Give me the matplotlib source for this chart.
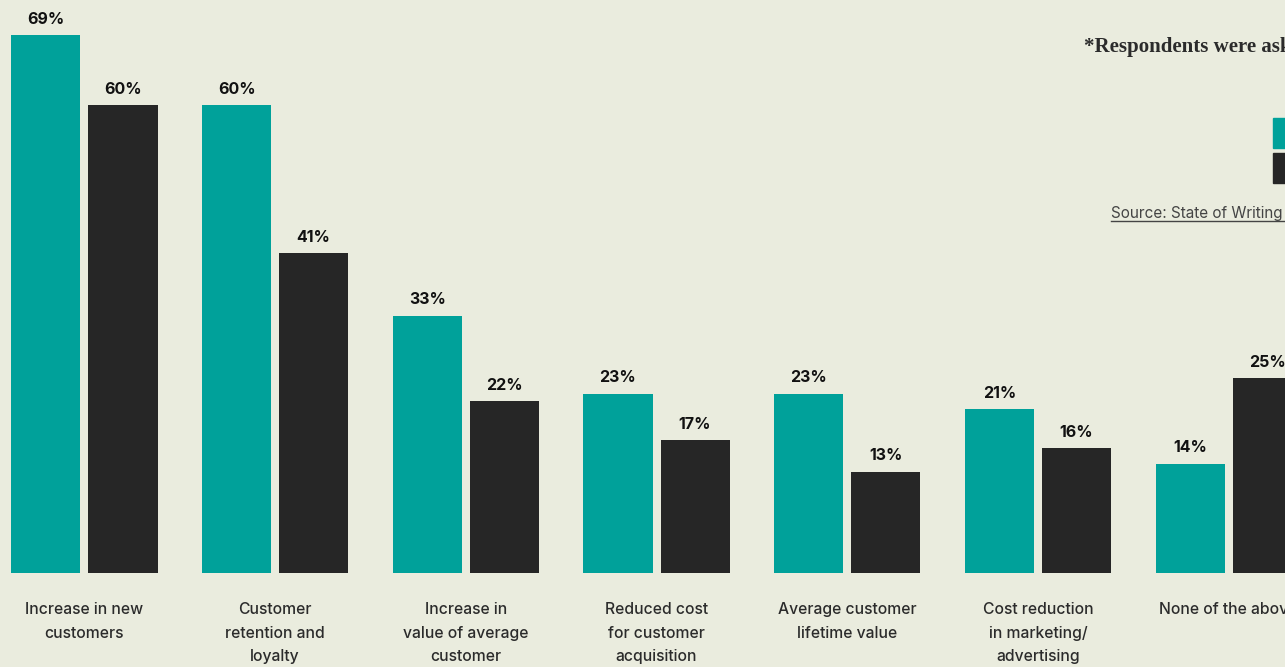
import matplotlib.pyplot as plt
import matplotlib.patches as mpatches
import matplotlib.lines as mlines
import numpy as np

categories = ["Increase in new\ncustomers",
              "Customer\nretention and\nloyalty",
              "Increase in\nvalue of average\ncustomer",
              "Reduced cost\nfor customer\nacquisition",
              "Average customer\nlifetime value",
              "Cost reduction\nin marketing/\nadvertising",
              "None of the above"]
series_a = [69, 60, 33, 23, 23, 21, 14]
series_b = [60, 41, 22, 17, 13, 16, 25]
names = ["2024", "2023"]

teal = "#00a19a"
dark = "#262626"
bg = "#eaecde"

plt.rcParams['font.family'] = ['Inter', 'DejaVu Sans']

fig = plt.figure(figsize=(12.85, 6.67), dpi=100, facecolor=bg)
ax = fig.add_axes([0, 0, 1, 1])
ax.set_facecolor(bg)

x = np.arange(len(categories))
w = 0.362
off = 0.202
b1 = ax.bar(x - off, series_a, w, color=teal, label=names[0])
b2 = ax.bar(x + off, series_b, w, color=dark, label=names[1])
for bars in (b1, b2):
    ax.bar_label(bars, labels=[f"{v}%" for v in bars.datavalues], padding=6,
                 fontsize=11.5, fontweight="bold", color="#111111")

for i, lab in enumerate(categories):
    ax.text(i, -3.75, lab, ha="center", va="top", fontsize=11.3, color="#2b2b2b",
            fontweight="medium", linespacing=1.72)

ax.set_xlim(-0.443, 6.296)
ax.set_ylim(-12.06, 73.49)
ax.axis("off")

# note, legend swatches and source (cropped at right edge)
fig.text(1084/1285, 1 - 47/667, "*Respondents were asked to select all that apply",
         family=["Liberation Serif"], fontweight="bold", fontsize=15, color="#2b2b2b",
         va="center", ha="left")
fig.patches.append(mpatches.Rectangle((1273/1285, 1 - 148/667), 40/1285, 30/667,
                                      transform=fig.transFigure, color=teal))
fig.patches.append(mpatches.Rectangle((1273/1285, 1 - 183/667), 40/1285, 30/667,
                                      transform=fig.transFigure, color=dark))
fig.text(1111/1285, 1 - 213/667, "Source: State of Writing 2024",
         fontsize=11, color="#444444", va="center", ha="left")
fig.lines.append(mlines.Line2D([1111/1285, 1.2], [1 - 221/667, 1 - 221/667],
                               transform=fig.transFigure, color="#444444", lw=1))

plt.savefig("out.png", dpi=100, facecolor=bg)
